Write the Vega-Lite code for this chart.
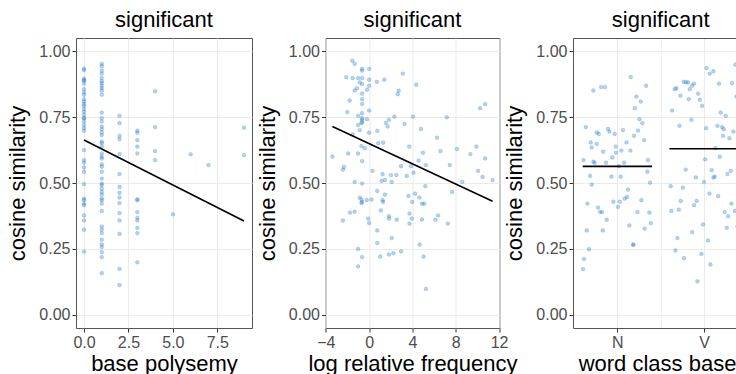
{
  "$schema": "https://vega.github.io/schema/vega-lite/v6.json",
  "padding": {"left": 6, "top": 8, "right": 0, "bottom": 0},
  "background": "white",
  "bounds": "flush",
  "spacing": 73.5,
  "datasets": {
    "poly": [
      {"x":0,"y":0.934},{"x":0,"y":0.928},{"x":0,"y":0.896},{"x":0,"y":0.889},{"x":0,"y":0.889},{"x":0,"y":0.877},{"x":0,"y":0.856},{"x":0,"y":0.844},{"x":0,"y":0.835},{"x":0,"y":0.818},{"x":0,"y":0.809},{"x":0,"y":0.8},{"x":0,"y":0.793},{"x":0,"y":0.781},{"x":0,"y":0.771},{"x":0,"y":0.759},{"x":0,"y":0.746},{"x":0,"y":0.746},{"x":0,"y":0.733},{"x":0,"y":0.72},{"x":0,"y":0.708},{"x":0,"y":0.698},{"x":0,"y":0.625},{"x":0,"y":0.587},{"x":0,"y":0.577},{"x":0,"y":0.559},{"x":0,"y":0.543},{"x":0,"y":0.496},{"x":0,"y":0.441},{"x":0,"y":0.435},{"x":0,"y":0.422},{"x":0,"y":0.416},{"x":0,"y":0.377},{"x":0,"y":0.358},{"x":0,"y":0.323},{"x":0,"y":0.24},
      {"x":1,"y":0.952},{"x":1,"y":0.943},{"x":1,"y":0.926},{"x":1,"y":0.915},{"x":1,"y":0.898},{"x":1,"y":0.886},{"x":1,"y":0.879},{"x":1,"y":0.869},{"x":1,"y":0.86},{"x":1,"y":0.851},{"x":1,"y":0.835},{"x":1,"y":0.767},{"x":1,"y":0.746},{"x":1,"y":0.733},{"x":1,"y":0.714},{"x":1,"y":0.704},{"x":1,"y":0.692},{"x":1,"y":0.682},{"x":1,"y":0.657},{"x":1,"y":0.651},{"x":1,"y":0.638},{"x":1,"y":0.612},{"x":1,"y":0.6},{"x":1,"y":0.593},{"x":1,"y":0.571},{"x":1,"y":0.562},{"x":1,"y":0.543},{"x":1,"y":0.517},{"x":1,"y":0.498},{"x":1,"y":0.492},{"x":1,"y":0.479},{"x":1,"y":0.466},{"x":1,"y":0.456},{"x":1,"y":0.441},{"x":1,"y":0.435},{"x":1,"y":0.422},{"x":1,"y":0.394},{"x":1,"y":0.335},{"x":1,"y":0.323},{"x":1,"y":0.31},{"x":1,"y":0.285},{"x":1,"y":0.267},{"x":1,"y":0.257},{"x":1,"y":0.238},{"x":1,"y":0.219},{"x":1,"y":0.158},
      {"x":2,"y":0.755},{"x":2,"y":0.727},{"x":2,"y":0.679},{"x":2,"y":0.666},{"x":2,"y":0.61},{"x":2,"y":0.534},{"x":2,"y":0.485},{"x":2,"y":0.463},{"x":2,"y":0.445},{"x":2,"y":0.424},{"x":2,"y":0.386},{"x":2,"y":0.358},{"x":2,"y":0.307},{"x":2,"y":0.174},{"x":2,"y":0.113},
      {"x":3,"y":0.699},{"x":3,"y":0.691},{"x":3,"y":0.663},{"x":3,"y":0.638},{"x":3,"y":0.612},{"x":3,"y":0.438},{"x":3,"y":0.435},{"x":3,"y":0.39},{"x":3,"y":0.368},{"x":3,"y":0.358},{"x":3,"y":0.33},{"x":3,"y":0.31},{"x":3,"y":0.199},
      {"x":4,"y":0.848},{"x":4,"y":0.712},{"x":4,"y":0.621},{"x":4,"y":0.587},
      {"x":5,"y":0.381},{"x":6,"y":0.609},{"x":7,"y":0.568},{"x":9,"y":0.71},{"x":9,"y":0.606}
    ],
    "polyFit": [{"x":0,"y":0.663},{"x":9,"y":0.356}],
    "freq": [
      {"x":-3.39,"y":0.6},{"x":-2.42,"y":0.551},{"x":-2.33,"y":0.561},{"x":-2.42,"y":0.358},{"x":-2.11,"y":0.901},{"x":-2.02,"y":0.769},{"x":-1.93,"y":0.612},{"x":-1.8,"y":0.813},{"x":-1.77,"y":0.388},{"x":-1.55,"y":0.964},{"x":-1.52,"y":0.898},{"x":-1.52,"y":0.684},{"x":-1.34,"y":0.952},{"x":-1.34,"y":0.851},{"x":-1.34,"y":0.504},{"x":-1.34,"y":0.391},{"x":-1.12,"y":0.86},{"x":-1.02,"y":0.898},{"x":-1.02,"y":0.755},{"x":-1.02,"y":0.72},{"x":-1.02,"y":0.612},{"x":-1.02,"y":0.25},{"x":-1.02,"y":0.184},{"x":-0.87,"y":0.882},{"x":-0.87,"y":0.701},{"x":-0.87,"y":0.445},{"x":-0.71,"y":0.437},{"x":-0.71,"y":0.64},{"x":-0.71,"y":0.727},{"x":-0.71,"y":0.424},{"x":-0.65,"y":0.933},{"x":-0.65,"y":0.926},{"x":-0.65,"y":0.898},{"x":-0.65,"y":0.875},{"x":-0.65,"y":0.839},{"x":-0.65,"y":0.818},{"x":-0.65,"y":0.8},{"x":-0.65,"y":0.765},{"x":-0.65,"y":0.746},{"x":-0.65,"y":0.74},{"x":-0.65,"y":0.731},{"x":-0.65,"y":0.583},{"x":-0.65,"y":0.498},{"x":-0.65,"y":0.428},{"x":-0.65,"y":0.219},{"x":-0.4,"y":0.632},{"x":-0.22,"y":0.435},{"x":-0.19,"y":0.854},{"x":-0.19,"y":0.742},{"x":-0.09,"y":0.365},{"x":0,"y":0.892},{"x":0,"y":0.869},{"x":0,"y":0.933},{"x":0,"y":0.775},{"x":0,"y":0.691},{"x":0,"y":0.348},{"x":0.22,"y":0.437},{"x":0.31,"y":0.546},{"x":0.71,"y":0.884},{"x":0.75,"y":0.698},{"x":0.75,"y":0.47},{"x":0.75,"y":0.32},{"x":0.75,"y":0.272},{"x":0.84,"y":0.651},{"x":1.02,"y":0.221},{"x":1.09,"y":0.396},{"x":1.15,"y":0.508},{"x":1.24,"y":0.534},{"x":1.24,"y":0.435},{"x":1.3,"y":0.653},{"x":1.3,"y":0.428},{"x":1.4,"y":0.892},{"x":1.46,"y":0.511},{"x":1.46,"y":0.456},{"x":1.55,"y":0.728},{"x":1.71,"y":0.714},{"x":1.83,"y":0.74},{"x":1.83,"y":0.374},{"x":1.83,"y":0.365},{"x":1.83,"y":0.229},{"x":2.02,"y":0.53},{"x":2.08,"y":0.504},{"x":2.08,"y":0.291},{"x":2.24,"y":0.234},{"x":2.33,"y":0.752},{"x":2.52,"y":0.53},{"x":2.55,"y":0.361},{"x":2.64,"y":0.837},{"x":2.73,"y":0.85},{"x":2.95,"y":0.564},{"x":2.95,"y":0.241},{"x":3.11,"y":0.915},{"x":3.26,"y":0.724},{"x":3.48,"y":0.527},{"x":3.63,"y":0.451},{"x":3.7,"y":0.638},{"x":3.73,"y":0.384},{"x":3.73,"y":0.346},{"x":3.88,"y":0.564},{"x":3.94,"y":0.365},{"x":3.98,"y":0.428},{"x":4.04,"y":0.752},{"x":4.1,"y":0.539},{"x":4.25,"y":0.46},{"x":4.35,"y":0.873},{"x":4.57,"y":0.585},{"x":4.63,"y":0.445},{"x":4.66,"y":0.266},{"x":4.78,"y":0.705},{"x":4.88,"y":0.422},{"x":4.88,"y":0.362},{"x":4.97,"y":0.615},{"x":5.03,"y":0.221},{"x":5.09,"y":0.422},{"x":5.19,"y":0.488},{"x":5.25,"y":0.568},{"x":5.25,"y":0.098},{"x":6.12,"y":0.361},{"x":6.27,"y":0.672},{"x":6.37,"y":0.377},{"x":6.58,"y":0.621},{"x":7.17,"y":0.749},{"x":7.27,"y":0.346},{"x":7.45,"y":0.568},{"x":7.67,"y":0.466},{"x":8.11,"y":0.629},{"x":8.6,"y":0.504},{"x":9.35,"y":0.61},{"x":9.91,"y":0.638},{"x":10.06,"y":0.546},{"x":10.25,"y":0.784},{"x":10.47,"y":0.523},{"x":10.71,"y":0.799},{"x":10.71,"y":0.593},{"x":11.4,"y":0.511}
    ],
    "freqFit": [{"x":-3.39,"y":0.714},{"x":11.4,"y":0.431}],
    "wc": [
      {"x":0.604,"y":0.173},{"x":0.615,"y":0.212},{"x":0.608,"y":0.587},{"x":0.635,"y":0.712},{"x":0.654,"y":0.422},{"x":0.646,"y":0.32},{"x":0.673,"y":0.249},{"x":0.685,"y":0.527},{"x":0.692,"y":0.654},{"x":0.704,"y":0.635},{"x":0.704,"y":0.494},{"x":0.723,"y":0.851},{"x":0.723,"y":0.581},{"x":0.738,"y":0.577},{"x":0.762,"y":0.648},{"x":0.762,"y":0.692},{"x":0.777,"y":0.407},{"x":0.785,"y":0.686},{"x":0.8,"y":0.39},{"x":0.812,"y":0.864},{"x":0.823,"y":0.39},{"x":0.831,"y":0.32},{"x":0.835,"y":0.619},{"x":0.858,"y":0.864},{"x":0.869,"y":0.577},{"x":0.877,"y":0.361},{"x":0.892,"y":0.705},{"x":0.908,"y":0.695},{"x":0.931,"y":0.524},{"x":0.954,"y":0.429},{"x":0.969,"y":0.686},{"x":0.942,"y":0.597},{"x":0.981,"y":0.638},{"x":0.985,"y":0.615},{"x":1.008,"y":0.409},{"x":1.015,"y":0.564},{"x":1.027,"y":0.429},{"x":1.038,"y":0.524},{"x":1.046,"y":0.623},{"x":1.065,"y":0.701},{"x":1.077,"y":0.577},{"x":1.085,"y":0.441},{"x":1.104,"y":0.654},{"x":1.112,"y":0.447},{"x":1.123,"y":0.475},{"x":1.138,"y":0.339},{"x":1.15,"y":0.623},{"x":1.154,"y":0.902},{"x":1.181,"y":0.266},{"x":1.185,"y":0.266},{"x":1.192,"y":0.679},{"x":1.2,"y":0.784},{"x":1.219,"y":0.828},{"x":1.231,"y":0.39},{"x":1.238,"y":0.699},{"x":1.254,"y":0.742},{"x":1.269,"y":0.809},{"x":1.277,"y":0.435},{"x":1.288,"y":0.727},{"x":1.308,"y":0.663},{"x":1.315,"y":0.327},{"x":1.331,"y":0.869},{"x":1.346,"y":0.543},{"x":1.354,"y":0.587},{"x":1.369,"y":0.388},{"x":1.377,"y":0.501},{"x":1.385,"y":0.348},
      {"x":1.615,"y":0.488},{"x":1.623,"y":0.394},{"x":1.631,"y":0.775},{"x":1.662,"y":0.856},{"x":1.669,"y":0.244},{"x":1.681,"y":0.86},{"x":1.692,"y":0.291},{"x":1.708,"y":0.399},{"x":1.715,"y":0.717},{"x":1.727,"y":0.831},{"x":1.731,"y":0.432},{"x":1.754,"y":0.482},{"x":1.765,"y":0.884},{"x":1.769,"y":0.215},{"x":1.792,"y":0.882},{"x":1.788,"y":0.551},{"x":1.815,"y":0.882},{"x":1.823,"y":0.818},{"x":1.835,"y":0.856},{"x":1.862,"y":0.314},{"x":1.862,"y":0.869},{"x":1.854,"y":0.74},{"x":1.885,"y":0.877},{"x":1.885,"y":0.416},{"x":1.904,"y":0.521},{"x":1.915,"y":0.432},{"x":1.923,"y":0.127},{"x":1.931,"y":0.839},{"x":1.95,"y":0.816},{"x":1.969,"y":0.231},{"x":1.977,"y":0.793},{"x":1.988,"y":0.343},{"x":2.0,"y":0.504},{"x":2.012,"y":0.59},{"x":2.023,"y":0.708},{"x":2.027,"y":0.936},{"x":2.046,"y":0.282},{"x":2.062,"y":0.46},{"x":2.065,"y":0.915},{"x":2.073,"y":0.191},{"x":2.088,"y":0.549},{"x":2.108,"y":0.521},{"x":2.123,"y":0.524},{"x":2.108,"y":0.924},{"x":2.131,"y":0.632},{"x":2.154,"y":0.717},{"x":2.162,"y":0.45},{"x":2.173,"y":0.877},{"x":2.181,"y":0.6},{"x":2.192,"y":0.767},{"x":2.208,"y":0.712},{"x":2.219,"y":0.679},{"x":2.227,"y":0.704},{"x":2.238,"y":0.39},{"x":2.25,"y":0.755},{"x":2.262,"y":0.33},{"x":2.269,"y":0.534},{"x":2.277,"y":0.374},{"x":2.292,"y":0.67},{"x":2.308,"y":0.546},{"x":2.315,"y":0.422},{"x":2.323,"y":0.879},{"x":2.338,"y":0.695},{"x":2.354,"y":0.394},{"x":2.362,"y":0.949},{"x":2.373,"y":0.828},{"x":2.385,"y":0.335},{"x":2.392,"y":0.924},{"x":2.408,"y":0.263},{"x":2.42,"y":0.8},{"x":2.42,"y":0.53}
    ],
    "wcMean": [
      {"cls":"N","x":0.6,"x2":1.4,"y":0.563},
      {"cls":"V","x":1.6,"x2":2.4,"y":0.63}
    ]
  },
  "hconcat": [
    {
      "width": 176,
      "height": 290,
      "title": "significant",
      "layer": [
        {
          "data": {"name": "poly"},
          "mark": {"type": "circle", "color": "#1874CD", "size": 14, "fillOpacity": 0.32, "stroke": "#1874CD", "strokeWidth": 0.6, "strokeOpacity": 0.32},
          "encoding": {
            "x": {"field": "x", "type": "quantitative", "title": "base polysemy",
              "scale": {"domain": [-0.45, 9.45], "nice": false, "zero": false},
              "axis": {"values": [0, 1.25, 2.5, 3.75, 5, 6.25, 7.5, 8.75],
                "labelExpr": "round(datum.value / 1.25) % 2 == 0 ? format(datum.value, '.1f') : ''",
                "tickOpacity": {"condition": {"test": "round(datum.value / 1.25) % 2 == 0", "value": 1}, "value": 0},
                "gridWidth": {"condition": {"test": "round(datum.value / 1.25) % 2 == 0", "value": 1}, "value": 0.6}}},
            "y": {"field": "y", "type": "quantitative", "title": "cosine similarity",
              "scale": {"domain": [-0.05, 1.05], "nice": false, "zero": false},
              "axis": {"values": [0, 0.125, 0.25, 0.375, 0.5, 0.625, 0.75, 0.875, 1],
                "labelExpr": "round(datum.value * 8) % 2 == 0 ? format(datum.value, '.2f') : ''",
                "tickOpacity": {"condition": {"test": "round(datum.value * 8) % 2 == 0", "value": 1}, "value": 0},
                "gridWidth": {"condition": {"test": "round(datum.value * 8) % 2 == 0", "value": 1}, "value": 0.6}}}
          }
        },
        {
          "data": {"name": "polyFit"},
          "mark": {"type": "line", "color": "black", "strokeWidth": 1.6},
          "encoding": {
            "x": {"field": "x", "type": "quantitative"},
            "y": {"field": "y", "type": "quantitative"}
          }
        }
      ]
    },
    {
      "width": 174,
      "height": 290,
      "title": "significant",
      "layer": [
        {
          "data": {"name": "freq"},
          "mark": {"type": "circle", "color": "#1874CD", "size": 14, "fillOpacity": 0.32, "stroke": "#1874CD", "strokeWidth": 0.6, "strokeOpacity": 0.32},
          "encoding": {
            "x": {"field": "x", "type": "quantitative", "title": "log relative frequency",
              "scale": {"domain": [-4.03, 12.04], "nice": false, "zero": false},
              "axis": {"values": [-4, -2, 0, 2, 4, 6, 8, 10, 12],
                "labelExpr": "datum.value % 4 == 0 ? format(datum.value, 'd') : ''",
                "tickOpacity": {"condition": {"test": "datum.value % 4 == 0", "value": 1}, "value": 0},
                "gridWidth": {"condition": {"test": "datum.value % 4 == 0", "value": 1}, "value": 0.6}}},
            "y": {"field": "y", "type": "quantitative", "title": "cosine similarity",
              "scale": {"domain": [-0.05, 1.05], "nice": false, "zero": false},
              "axis": {"values": [0, 0.125, 0.25, 0.375, 0.5, 0.625, 0.75, 0.875, 1],
                "labelExpr": "round(datum.value * 8) % 2 == 0 ? format(datum.value, '.2f') : ''",
                "tickOpacity": {"condition": {"test": "round(datum.value * 8) % 2 == 0", "value": 1}, "value": 0},
                "gridWidth": {"condition": {"test": "round(datum.value * 8) % 2 == 0", "value": 1}, "value": 0.6}}}
          }
        },
        {
          "data": {"name": "freqFit"},
          "mark": {"type": "line", "color": "black", "strokeWidth": 1.6},
          "encoding": {
            "x": {"field": "x", "type": "quantitative"},
            "y": {"field": "y", "type": "quantitative"}
          }
        }
      ]
    },
    {
      "width": 167.5,
      "height": 290,
      "title": {"text": "significant", "dx": 4},
      "view": {"stroke": null},
      "resolve": {"axis": {"x": "independent"}},
      "layer": [
        {
          "data": {"name": "wc"},
          "mark": {"type": "circle", "color": "#1874CD", "size": 14, "fillOpacity": 0.32, "stroke": "#1874CD", "strokeWidth": 0.6, "strokeOpacity": 0.32, "clip": true},
          "encoding": {
            "x": {"field": "x", "type": "quantitative", "title": "word class base",
              "scale": {"domain": [0.488, 2.42], "nice": false, "zero": false},
              "axis": {"values": [1, 1.5, 2], "domain": true, "titleX": 84,
                "labelExpr": "datum.value == 1 ? 'N' : datum.value == 2 ? 'V' : ''",
                "tickOpacity": {"condition": {"test": "datum.value != 1.5", "value": 1}, "value": 0},
                "gridWidth": {"condition": {"test": "datum.value != 1.5", "value": 1}, "value": 0.6}}},
            "y": {"field": "y", "type": "quantitative", "title": "cosine similarity",
              "scale": {"domain": [-0.05, 1.05], "nice": false, "zero": false},
              "axis": {"values": [0, 0.125, 0.25, 0.375, 0.5, 0.625, 0.75, 0.875, 1], "domain": true,
                "labelExpr": "round(datum.value * 8) % 2 == 0 ? format(datum.value, '.2f') : ''",
                "tickOpacity": {"condition": {"test": "round(datum.value * 8) % 2 == 0", "value": 1}, "value": 0},
                "gridWidth": {"condition": {"test": "round(datum.value * 8) % 2 == 0", "value": 1}, "value": 0.6}}}
          }
        },
        {
          "data": {"name": "wcMean"},
          "mark": {"type": "rule", "color": "black", "strokeWidth": 1.6, "clip": true},
          "encoding": {
            "x": {"field": "x", "type": "quantitative", "axis": {"orient": "top", "labels": false, "ticks": false, "grid": false, "domain": true, "title": null}},
            "x2": {"field": "x2"},
            "y": {"field": "y", "type": "quantitative"}
          }
        }
      ]
    }
  ],
  "config": {
    "font": "Liberation Sans",
    "view": {"stroke": "#555555", "strokeWidth": 1},
    "title": {"fontSize": 22, "fontWeight": "normal", "color": "#000000", "font": "Liberation Sans", "offset": 6},
    "axis": {
      "domain": false,
      "domainColor": "#555555",
      "domainWidth": 1,
      "gridColor": "#EBEBEB",
      "tickColor": "#333333",
      "tickSize": 4,
      "labelFont": "Liberation Sans",
      "labelFontSize": 16,
      "labelColor": "#4D4D4D",
      "labelPadding": 2,
      "labelFlush": false,
      "labelOverlap": false,
      "titleFont": "Liberation Sans",
      "titleFontSize": 22,
      "titleFontWeight": "normal",
      "titleColor": "#000000"
    },
    "axisX": {"titlePadding": 3},
    "axisY": {"titlePadding": 9}
  }
}
